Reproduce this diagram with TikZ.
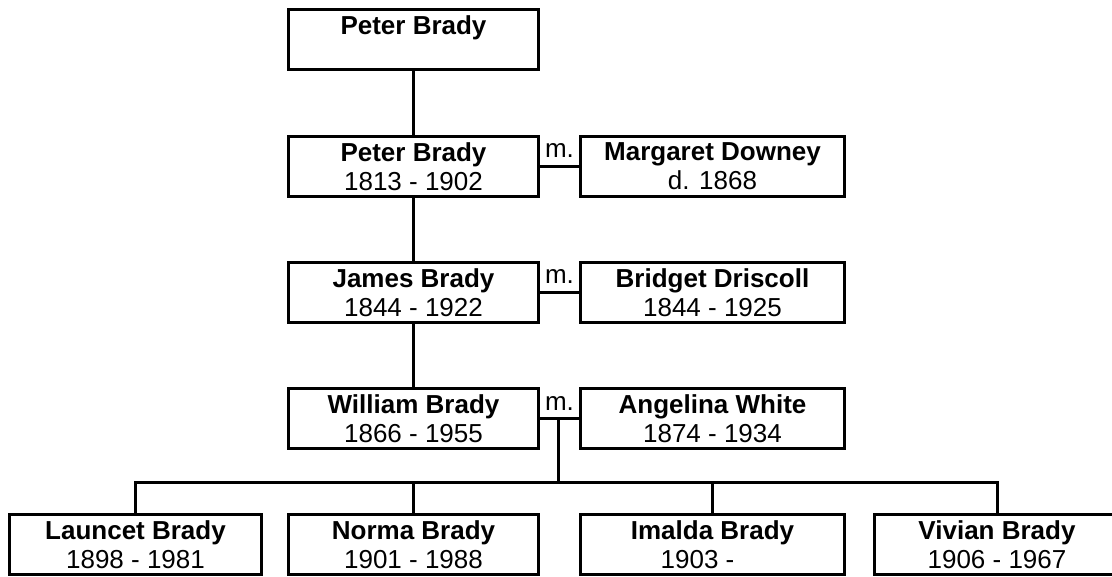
\documentclass[tikz,border=0pt]{standalone}
\usepackage{fontspec}
\setmainfont{Liberation Sans}
\begin{document}
\begin{tikzpicture}[x=1pt,y=-1pt,
  person/.style={draw, line width=3pt, rectangle, minimum width=250pt, minimum height=60pt,
    inner sep=0pt, align=center, font=\fontsize{26}{29}\selectfont},
  spouse/.style={person, minimum width=264pt},
  link/.style={line width=3pt},
  mlabel/.style={font=\fontsize{26}{29}\selectfont, inner sep=0pt, anchor=base}]
\useasboundingbox (0,0) rectangle (1112,577);
\clip (0,0) rectangle (1112,577);

% generation 1
\node[person] (g1) at (413.5,39.5) {\textbf{Peter Brady}\\\phantom{1}};
% generation 2
\node[person] (g2) at (413.5,166.5) {\textbf{Peter Brady}\\1813 - 1902};
\node[spouse] (s2) at (712.5,166.5) {\textbf{Margaret Downey}\\d. 1868};
% generation 3
\node[person] (g3) at (413.5,292.5) {\textbf{James Brady}\\1844 - 1922};
\node[spouse] (s3) at (712.5,292.5) {\textbf{Bridget Driscoll}\\1844 - 1925};
% generation 4
\node[person] (g4) at (413.5,418.5) {\textbf{William Brady}\\1866 - 1955};
\node[spouse] (s4) at (712.5,418.5) {\textbf{Angelina White}\\1874 - 1934};
% children
\node[person, minimum width=252pt] (c1) at (135.5,544.5) {\textbf{Launcet Brady}\\1898 - 1981};
\node[person] (c2) at (413.5,544.5) {\textbf{Norma Brady}\\1901 - 1988};
\node[spouse] (c3) at (712.5,544.5) {\textbf{Imalda Brady}\\1903 -\hspace*{30pt}};
\node[person, minimum width=245pt] (c4) at (997,544.5) {\textbf{Vivian Brady}\\1906 - 1967};

% marriage labels
\node[mlabel] (m2) at (559.5,158) {m.};
\node[mlabel] (m3) at (559.5,284) {m.};
\node[mlabel] (m4) at (559.5,410) {m.};

% descent lines
\draw[link] (g1.south) -- (g2.north);
\draw[link] (g2.south) -- (g3.north);
\draw[link] (g3.south) -- (g4.north);

% marriage lines
\draw[link] (g2.east) -- (s2.west);
\draw[link] (g3.east) -- (s3.west);
\draw[link] (g4.east) -- (s4.west);

% children bar
\coordinate (j4) at (558,418.5);
\coordinate (bar) at (558,482);
\draw[link] (j4) -- (bar);
\draw[link] (c1.north) |- (bar) -| (c4.north);
\draw[link] (c2.north) -- (c2.north |- bar);
\draw[link] (c3.north) -- (c3.north |- bar);
\end{tikzpicture}
\end{document}
